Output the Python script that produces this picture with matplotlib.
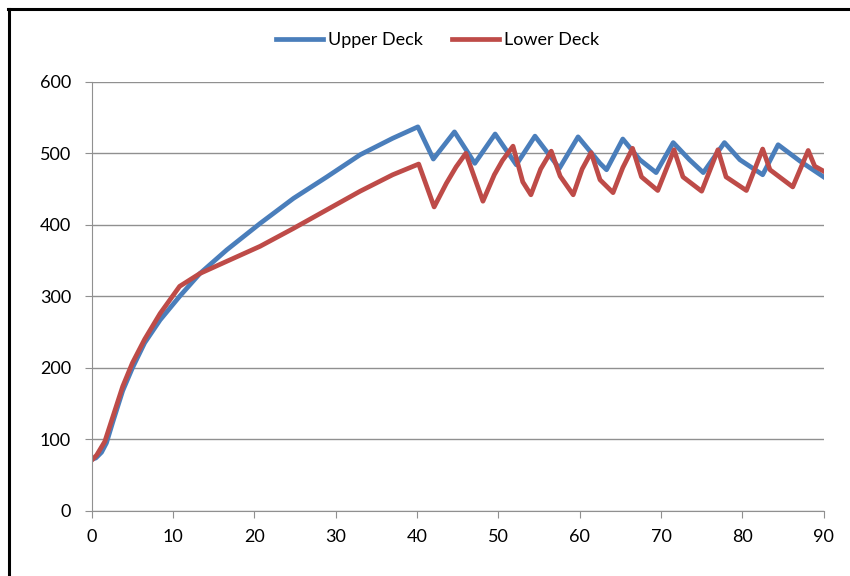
import matplotlib.pyplot as plt
from matplotlib.lines import Line2D

# time axis and values
x_upper = [0, 0.5, 1.2, 1.8, 2.6, 3.8, 5.0, 6.5, 8.4, 10.8, 13.3, 16.6, 20.7, 24.8, 28.9,
           33.0, 37.0, 40.1, 42.0, 44.6, 47.1, 49.6, 52.2, 54.5, 57.5, 59.8, 62.5, 63.3,
           65.3, 67.4, 69.4, 71.5, 73.5, 75.2, 77.8, 79.7, 82.5, 84.4, 87.1, 90]
upper = [72, 74, 82, 95, 125, 168, 200, 235, 267, 300, 332, 365, 402, 437, 467,
         498, 521, 537, 492, 530, 486, 527, 484, 524, 479, 523, 486, 477,
         520, 491, 473, 515, 491, 473, 515, 491, 470, 512, 489, 467]

x_lower = [0, 0.6, 1.6, 2.6, 3.8, 5.0, 6.5, 8.4, 10.8, 13.3, 16.6, 20.7, 24.8, 28.9,
           33.0, 37.0, 40.2, 42.1, 43.6, 44.8, 46.0, 48.1, 49.5, 50.5, 51.8, 53.0, 54.0,
           55.2, 56.5, 57.6, 59.2, 60.3, 61.4, 62.5, 64.1, 65.3, 66.5, 67.6, 69.6, 71.6,
           72.7, 75.0, 77.0, 78.0, 80.5, 82.5, 83.4, 86.2, 88.1, 88.9, 90]
lower = [71, 78, 97, 132, 174, 207, 240, 276, 314, 332, 349, 370, 395, 421,
         447, 470, 485, 425, 458, 481, 500, 433, 470, 490, 510, 460, 442,
         478, 503, 468, 442, 478, 501, 463, 445, 480, 507, 467, 448, 505,
         467, 447, 505, 467, 448, 506, 477, 453, 504, 482, 475]

plt.rcParams['font.family'] = ['Lato', 'DejaVu Sans']

fig = plt.figure(figsize=(8.5, 5.76), dpi=100)
ax = fig.add_axes([0.108, 0.113, 0.861, 0.745])

ax.plot(x_upper, upper, color='#4A7EBB', lw=3.4, label='Upper Deck', solid_joinstyle='round')
ax.plot(x_lower, lower, color='#BE4B48', lw=3.4, label='Lower Deck', solid_joinstyle='round')

ax.set_xlim(0, 90)
ax.set_ylim(0, 600)
ax.set_xticks(range(0, 91, 10))
ax.set_yticks(range(0, 601, 100))
ax.yaxis.grid(True, color='#909090', lw=1)
ax.set_axisbelow(True)
for s in ['top', 'right']:
    ax.spines[s].set_visible(False)
for s in ['left', 'bottom']:
    ax.spines[s].set_color('#909090')
ax.tick_params(colors='#909090', labelcolor='black', labelsize=13, length=5)
ax.tick_params(axis='x', pad=8)
ax.tick_params(axis='y', pad=10)

fig.legend(loc='center', bbox_to_anchor=(0.515, 0.93), ncol=2, frameon=False,
           fontsize=13, handlelength=2.6, columnspacing=1.6, handletextpad=0.3)

# frame edges at top and left of the picture
fig.add_artist(Line2D([8 / 850, 1], [1 - 9 / 576, 1 - 9 / 576], color='black', lw=2.2))
fig.add_artist(Line2D([9 / 850, 9 / 850], [0, 1 - 9 / 576], color='black', lw=2.2))

fig.savefig('out.png', dpi=100)
